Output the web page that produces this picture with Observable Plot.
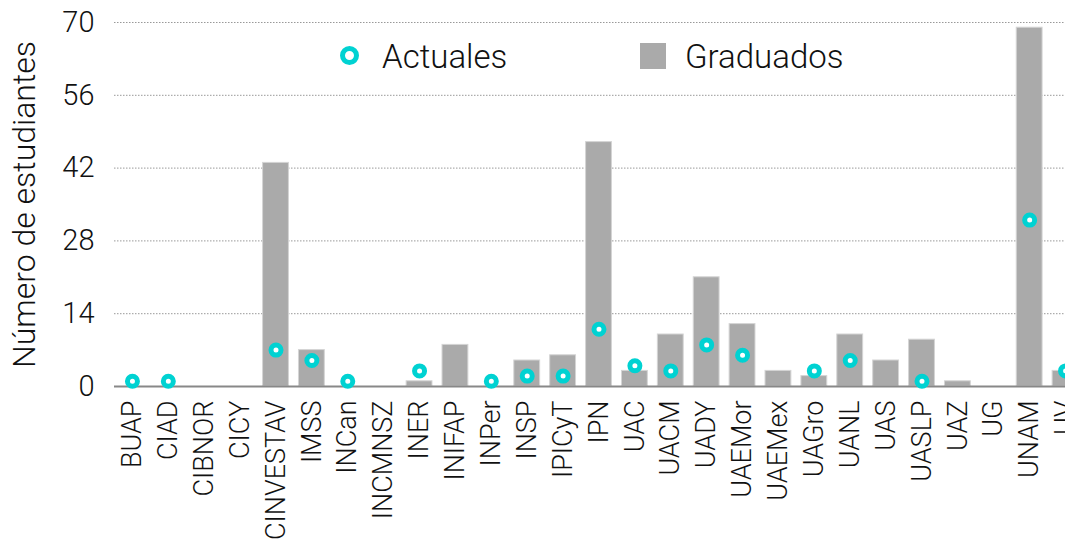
<!DOCTYPE html>
<html>
<head>
<meta charset="utf-8">
<script src="https://cdn.jsdelivr.net/npm/d3@7"></script>
<script src="https://cdn.jsdelivr.net/npm/@observablehq/plot@0.6"></script>
<style>
  html, body { margin: 0; padding: 0; background: #fff; overflow: hidden; width: 1065px; height: 542px; }
  #wrap { position: relative; width: 1083px; height: 542px; font-family: "Roboto", "Liberation Sans", sans-serif; font-weight: 300; }
  #wrap svg { max-width: none !important; }
  .leg { position: absolute; font-size: 33px; color: #111; line-height: 1; font-weight: 300; }
  .legdot { position: absolute; width: 9px; height: 9px; border: 5px solid #00d2d2; border-radius: 50%; background: #fff; }
  .legsq { position: absolute; width: 26px; height: 26px; background: #aaaaaa; }
</style>
</head>
<body>
<div id="wrap"></div>
<script>
const institutions = ["BUAP","CIAD","CIBNOR","CICY","CINVESTAV","IMSS","INCan","INCMNSZ","INER","INIFAP","INPer","INSP","IPICyT","IPN","UAC","UACM","UADY","UAEMor","UAEMex","UAGro","UANL","UAS","UASLP","UAZ","UG","UNAM","UV"];
const graduados = [0,0,0,0,43,7,0,0,1,8,0,5,6,47,3,10,21,12,3,2,10,5,9,1,0,69,3];
const actuales  = [1,1,null,null,7,5,1,null,3,null,1,2,2,11,4,3,8,6,null,3,5,null,1,null,null,32,3];
const yTicks = [0,14,28,42,56,70];
const legendLabels = ["Actuales","Graduados"];
const yLabel = "Número de estudiantes";

const data = institutions.map((inst, i) => ({inst, grad: graduados[i], act: actuales[i]}));

const chart = Plot.plot({
  width: 1083,
  height: 542,
  marginTop: 22,
  marginBottom: 156,
  marginLeft: 114,
  marginRight: 0,
  style: {fontFamily: "Roboto, 'Liberation Sans', sans-serif", color: "#111", background: "white", fontWeight: 300},
  x: {type: "band", domain: institutions, paddingInner: 0.28, paddingOuter: 0.14, round: false},
  y: {domain: [0, 70]},
  marks: [
    Plot.gridY(yTicks, {stroke: "#999", strokeOpacity: 1, strokeDasharray: "1.5,1.5", strokeWidth: 1}),
    Plot.axisY(yTicks, {tickSize: 0, tickPadding: 20, fontSize: 29, label: null}),
    Plot.text([yLabel], {frameAnchor: "left", textAnchor: "middle", rotate: -90, dx: -90, fontSize: 32, fill: "#111"}),
    Plot.axisX({tickRotate: -90, tickSize: 0, tickPadding: 14, fontSize: 27, label: null}),
    Plot.barY(data.filter(d => d.grad > 0), {x: "inst", y: "grad", fill: "#aaaaaa", stroke: "#d4d4d4", strokeWidth: 1}),
    Plot.ruleY([0], {stroke: "#888", strokeWidth: 2}),
    Plot.dot(data.filter(d => d.act != null), {x: "inst", y: "act", r: 5, stroke: "#00d2d2", strokeWidth: 5, fill: "white"})
  ]
});
const wrap = document.getElementById("wrap");
wrap.appendChild(chart);

// legend
const d1 = document.createElement("div"); d1.className = "legdot"; d1.style.left = "340px"; d1.style.top = "46px"; wrap.appendChild(d1);
const t1 = document.createElement("div"); t1.className = "leg"; t1.textContent = legendLabels[0]; t1.style.left = "382px"; t1.style.top = "40px"; wrap.appendChild(t1);
const s2 = document.createElement("div"); s2.className = "legsq"; s2.style.left = "640px"; s2.style.top = "43px"; wrap.appendChild(s2);
const t2 = document.createElement("div"); t2.className = "leg"; t2.textContent = legendLabels[1]; t2.style.left = "685px"; t2.style.top = "40px"; wrap.appendChild(t2);
</script>
</body>
</html>
